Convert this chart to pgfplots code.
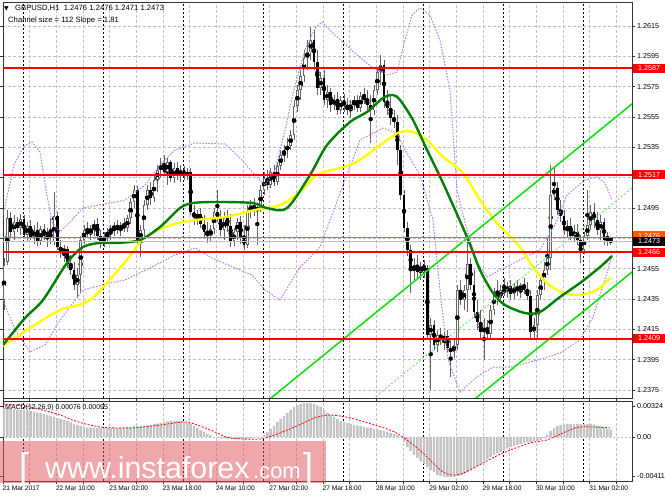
\documentclass[border=0pt]{standalone}
\usepackage{pgfplots}
\pgfplotsset{compat=1.18}
\usepackage{pgfplotstable}
\usepackage{fontspec}
\setmainfont{Liberation Sans}
\newfontfamily\dejavu{DejaVu Sans}
\definecolor{mtgrid}{RGB}{192,192,192}
\definecolor{mtgreen}{RGB}{0,128,0}
\definecolor{mtyellow}{RGB}{255,255,0}
\definecolor{mtlime}{RGB}{20,225,20}
\definecolor{mtviolet}{RGB}{185,120,240}
\definecolor{mtpink}{RGB}{225,80,90}
\definecolor{mtwick}{RGB}{100,100,100}
\definecolor{mtbar}{RGB}{195,195,195}
\definecolor{mtorange}{RGB}{255,90,0}

\pgfplotstableread{
i O H L C
0 1.24344 1.24621 1.24278 1.24575
1 1.24594 1.24937 1.24575 1.24884
2 1.24884 1.24924 1.24753 1.24792
3 1.24792 1.24904 1.24739 1.24858
4 1.24858 1.24891 1.24792 1.24819
5 1.24819 1.24911 1.24772 1.24878
6 1.24878 1.24904 1.24753 1.24772
7 1.24772 1.24858 1.24726 1.24832
8 1.24832 1.24871 1.24739 1.24759
9 1.24759 1.24838 1.24713 1.24805
10 1.24805 1.24858 1.24700 1.24733
11 1.24733 1.24832 1.24706 1.24812
12 1.24812 1.24845 1.24739 1.24766
13 1.24766 1.24819 1.24693 1.24792
14 1.24792 1.24884 1.24713 1.24753
15 1.24726 1.25056 1.24706 1.24898
16 1.24898 1.24924 1.24674 1.24693
17 1.24693 1.24739 1.24621 1.24660
18 1.24660 1.24706 1.24594 1.24680
19 1.24680 1.24700 1.24555 1.24581
20 1.24581 1.24641 1.24509 1.24542
21 1.24542 1.24594 1.24410 1.24443
22 1.24443 1.24555 1.24364 1.24509
23 1.24509 1.24766 1.24397 1.24739
24 1.24739 1.24838 1.24713 1.24805
25 1.24805 1.24858 1.24753 1.24779
26 1.24779 1.24838 1.24739 1.24819
27 1.24819 1.24871 1.24766 1.24845
28 1.24845 1.24884 1.24739 1.24766
29 1.24766 1.24805 1.24687 1.24726
30 1.24726 1.24792 1.24693 1.24766
31 1.24766 1.24819 1.24713 1.24792
32 1.24792 1.24838 1.24739 1.24812
33 1.24812 1.24858 1.24766 1.24832
34 1.24832 1.24871 1.24779 1.24805
35 1.24805 1.24858 1.24766 1.24838
36 1.24838 1.24884 1.24792 1.24819
37 1.24819 1.24904 1.24792 1.24884
38 1.24884 1.25016 1.24845 1.24990
39 1.24990 1.25102 1.24950 1.25069
40 1.25069 1.25095 1.24706 1.24739
41 1.24739 1.24838 1.24627 1.24805
42 1.24805 1.25003 1.24766 1.24970
43 1.24970 1.25102 1.24937 1.25069
44 1.25069 1.25122 1.24970 1.25016
45 1.25016 1.25168 1.24990 1.25135
46 1.25135 1.25234 1.25056 1.25201
47 1.25201 1.25280 1.25148 1.25234
48 1.25234 1.25300 1.25168 1.25188
49 1.25188 1.25280 1.25102 1.25253
50 1.25253 1.25267 1.25122 1.25148
51 1.25148 1.25247 1.25115 1.25214
52 1.25214 1.25253 1.25135 1.25168
53 1.25168 1.25234 1.25122 1.25201
54 1.25201 1.25227 1.25135 1.25161
55 1.25161 1.25214 1.25135 1.25188
56 1.25188 1.25214 1.24904 1.24924
57 1.24924 1.24970 1.24838 1.24884
58 1.24884 1.24937 1.24838 1.24911
59 1.24911 1.24950 1.24819 1.24845
60 1.24845 1.24904 1.24753 1.24792
61 1.24792 1.24858 1.24720 1.24766
62 1.24766 1.24838 1.24726 1.24812
63 1.24812 1.24950 1.24779 1.24924
64 1.24924 1.25069 1.24858 1.24891
65 1.24891 1.24937 1.24766 1.24805
66 1.24805 1.24924 1.24739 1.24884
67 1.24884 1.24937 1.24792 1.24832
68 1.24832 1.24911 1.24693 1.24733
69 1.24733 1.24819 1.24700 1.24792
70 1.24792 1.24884 1.24739 1.24858
71 1.24858 1.24898 1.24713 1.24753
72 1.24753 1.24838 1.24674 1.24706
73 1.24706 1.24970 1.24687 1.24924
74 1.24924 1.25003 1.24884 1.24970
75 1.24970 1.25016 1.24898 1.24937
76 1.24937 1.24983 1.24706 1.24950
77 1.24950 1.25102 1.24924 1.25069
78 1.25069 1.25188 1.25036 1.25148
79 1.25148 1.25201 1.25069 1.25102
80 1.25102 1.25214 1.25082 1.25188
81 1.25188 1.25234 1.25095 1.25122
82 1.25122 1.25253 1.25102 1.25227
83 1.25227 1.25333 1.25201 1.25300
84 1.25300 1.25365 1.25253 1.25333
85 1.25333 1.25412 1.25280 1.25359
86 1.25359 1.25464 1.25333 1.25431
87 1.25431 1.25662 1.25398 1.25622
88 1.25622 1.25761 1.25583 1.25728
89 1.25728 1.25860 1.25662 1.25820
90 1.25820 1.25992 1.25781 1.25939
91 1.25939 1.26057 1.25860 1.25978
92 1.25978 1.26143 1.25926 1.26057
93 1.26057 1.26123 1.25860 1.25912
94 1.25912 1.25992 1.25695 1.25741
95 1.25741 1.25847 1.25695 1.25807
96 1.25807 1.25860 1.25629 1.25662
97 1.25662 1.25761 1.25609 1.25715
98 1.25715 1.25741 1.25583 1.25629
99 1.25629 1.25695 1.25596 1.25669
100 1.25669 1.25715 1.25563 1.25596
101 1.25596 1.25688 1.25570 1.25662
102 1.25662 1.25702 1.25583 1.25622
103 1.25622 1.25675 1.25563 1.25596
104 1.25596 1.25662 1.25543 1.25636
105 1.25636 1.25688 1.25596 1.25662
106 1.25662 1.25695 1.25583 1.25609
107 1.25609 1.25715 1.25583 1.25688
108 1.25688 1.25741 1.25636 1.25662
109 1.25662 1.25728 1.25596 1.25629
110 1.25629 1.25695 1.25379 1.25596
111 1.25596 1.25761 1.25563 1.25728
112 1.25728 1.25873 1.25695 1.25847
113 1.25847 1.25959 1.25761 1.25893
114 1.25893 1.25926 1.25609 1.25649
115 1.25649 1.25728 1.25563 1.25609
116 1.25609 1.25695 1.25497 1.25543
117 1.25543 1.25596 1.25477 1.25517
118 1.25517 1.25563 1.25234 1.25333
119 1.25333 1.25365 1.25003 1.25036
120 1.25036 1.25069 1.24792 1.24819
121 1.24819 1.24858 1.24634 1.24674
122 1.24674 1.24706 1.24390 1.24542
123 1.24542 1.24621 1.24476 1.24575
124 1.24575 1.24641 1.24489 1.24529
125 1.24529 1.24594 1.24476 1.24568
126 1.24568 1.24608 1.24489 1.24555
127 1.24555 1.24575 1.24080 1.24113
128 1.24113 1.24225 1.23751 1.24179
129 1.24179 1.24212 1.24015 1.24047
130 1.24047 1.24146 1.24001 1.24113
131 1.24113 1.24160 1.24047 1.24080
132 1.24080 1.24133 1.24015 1.24107
133 1.24107 1.24146 1.24001 1.24028
134 1.24028 1.24080 1.23837 1.24001
135 1.24001 1.24094 1.23962 1.24047
136 1.24047 1.24443 1.24015 1.24410
137 1.24410 1.24476 1.24311 1.24344
138 1.24344 1.24443 1.24278 1.24410
139 1.24410 1.24753 1.24265 1.24581
140 1.24581 1.24621 1.24410 1.24443
141 1.24443 1.24542 1.24225 1.24265
142 1.24265 1.24344 1.24146 1.24199
143 1.24199 1.24278 1.24094 1.24133
144 1.24133 1.24225 1.23949 1.24160
145 1.24160 1.24212 1.24094 1.24120
146 1.24120 1.24311 1.24094 1.24278
147 1.24278 1.24423 1.24245 1.24390
148 1.24390 1.24476 1.24311 1.24357
149 1.24357 1.24443 1.24331 1.24410
150 1.24410 1.24489 1.24370 1.24397
151 1.24397 1.24463 1.24357 1.24436
152 1.24436 1.24476 1.24344 1.24384
153 1.24384 1.24456 1.24351 1.24430
154 1.24430 1.24476 1.24370 1.24403
155 1.24403 1.24456 1.24357 1.24443
156 1.24443 1.24489 1.24384 1.24410
157 1.24410 1.24463 1.24344 1.24370
158 1.24370 1.24410 1.24094 1.24133
159 1.24133 1.24225 1.24080 1.24179
160 1.24179 1.24410 1.24094 1.24377
161 1.24377 1.24502 1.24344 1.24476
162 1.24476 1.24594 1.24410 1.24542
163 1.24542 1.24759 1.24509 1.24621
164 1.24621 1.25234 1.24542 1.25036
165 1.25036 1.25214 1.25003 1.25082
166 1.25082 1.25122 1.24904 1.24937
167 1.24937 1.25003 1.24858 1.24898
168 1.24898 1.24937 1.24772 1.24805
169 1.24805 1.24871 1.24753 1.24832
170 1.24832 1.24884 1.24739 1.24766
171 1.24766 1.24838 1.24726 1.24792
172 1.24792 1.24845 1.24706 1.24739
173 1.24739 1.24772 1.24588 1.24674
174 1.24674 1.24792 1.24647 1.24766
175 1.24766 1.25069 1.24739 1.24838
176 1.24838 1.24970 1.24805 1.24924
177 1.24924 1.24983 1.24819 1.24871
178 1.24871 1.24924 1.24772 1.24805
179 1.24805 1.24904 1.24739 1.24858
180 1.24858 1.24884 1.24706 1.24739
181 1.24739 1.24792 1.24700 1.24766
182 1.24760 1.24760 1.24710 1.24730
}\candles

\pgfplotstableread{
i m
0 0.00303
1 0.00303
2 0.00298
3 0.00293
4 0.00287
5 0.00282
6 0.00282
7 0.00272
8 0.00272
9 0.00261
10 0.00256
11 0.00251
12 0.00240
13 0.00230
14 0.00219
15 0.00209
16 0.00199
17 0.00188
18 0.00178
19 0.00167
20 0.00152
21 0.00136
22 0.00125
23 0.00115
24 0.00105
25 0.00099
26 0.00094
27 0.00094
28 0.00094
29 0.00094
30 0.00094
31 0.00094
32 0.00094
33 0.00094
34 0.00094
35 0.00099
36 0.00105
37 0.00105
38 0.00105
39 0.00110
40 0.00110
41 0.00115
42 0.00115
43 0.00120
44 0.00125
45 0.00136
46 0.00141
47 0.00146
48 0.00157
49 0.00162
50 0.00167
51 0.00167
52 0.00167
53 0.00167
54 0.00157
55 0.00146
56 0.00136
57 0.00115
58 0.00094
59 0.00073
60 0.00052
61 0.00031
62 0.00016
63 -0.00002
64 -0.00005
65 -0.00010
66 -0.00010
67 -0.00016
68 -0.00016
69 -0.00021
70 -0.00021
71 -0.00021
72 -0.00021
73 -0.00016
74 -0.00016
75 -0.00010
76 -0.00005
77 0.00005
78 0.00021
79 0.00052
80 0.00084
81 0.00115
82 0.00157
83 0.00188
84 0.00219
85 0.00251
86 0.00282
87 0.00314
88 0.00334
89 0.00345
90 0.00355
91 0.00355
92 0.00355
93 0.00345
94 0.00329
95 0.00314
96 0.00282
97 0.00251
98 0.00230
99 0.00209
100 0.00188
101 0.00167
102 0.00157
103 0.00146
104 0.00136
105 0.00125
106 0.00120
107 0.00115
108 0.00105
109 0.00099
110 0.00094
111 0.00084
112 0.00078
113 0.00073
114 0.00063
115 0.00052
116 0.00042
117 0.00031
118 0.00021
119 -0.00005
120 -0.00052
121 -0.00105
122 -0.00146
123 -0.00188
124 -0.00219
125 -0.00251
126 -0.00282
127 -0.00314
128 -0.00345
129 -0.00366
130 -0.00397
131 -0.00408
132 -0.00418
133 -0.00418
134 -0.00418
135 -0.00418
136 -0.00408
137 -0.00402
138 -0.00387
139 -0.00366
140 -0.00345
141 -0.00324
142 -0.00303
143 -0.00282
144 -0.00256
145 -0.00230
146 -0.00209
147 -0.00188
148 -0.00167
149 -0.00157
150 -0.00136
151 -0.00120
152 -0.00105
153 -0.00094
154 -0.00084
155 -0.00073
156 -0.00063
157 -0.00057
158 -0.00052
159 -0.00047
160 -0.00042
161 -0.00031
162 -0.00010
163 0.00021
164 0.00063
165 0.00094
166 0.00115
167 0.00125
168 0.00131
169 0.00136
170 0.00136
171 0.00136
172 0.00136
173 0.00136
174 0.00136
175 0.00136
176 0.00136
177 0.00131
178 0.00120
179 0.00110
180 0.00099
181 0.00088
182 0.00076
}\macd

\begin{document}
\begin{tikzpicture}
\useasboundingbox (0bp,0bp) rectangle (665bp,499bp);
\fill[white] (0bp,0bp) rectangle (665bp,499bp);

% ---------------- price panel ----------------
\begin{axis}[
  at={(3bp,101bp)}, anchor=south west, scale only axis,
  width=629bp, height=396bp,
  xmin=-0.3, xmax=188.4, ymin=1.23698, ymax=1.26308,
  clip mode=individual,
  axis line style={black!80, line width=0.8bp},
  xtick={-0.3,7.7,...,183.7}, xticklabels={},
  xtick style={draw=none},
  extra x ticks={5.7,29.7,53.7,77.7,101.7,125.7,149.7,173.7},
  extra x tick labels={},
  extra x tick style={xtick style={draw=none}, major grid style={black, dash pattern=on 2bp off 2bp, line width=0.7bp}},
  xmajorgrids, ymajorgrids,
  major grid style={mtgrid, dash pattern=on 3bp off 2bp, line width=0.6bp},
  ytick={1.2375,1.2395,1.2415,1.2435,1.2455,1.2475,1.2495,1.2515,1.2535,1.2555,1.2575,1.2595,1.2615},
  yticklabels={1.2375,1.2395,1.2415,1.2435,1.2455,,1.2495,,1.2535,1.2555,1.2575,1.2595,1.2615},
  yticklabel pos=right,
  tick align=outside, major tick length=3bp,
  ytick style={black!80, line width=0.6bp},
  yticklabel style={font=\fontsize{7.2}{8}\selectfont, anchor=west, inner sep=0pt, xshift=2bp},
]
% wicks
\addplot[only marks, mark=none, error bars/.cd, y dir=both, y explicit, error mark=none,
  error bar style={line width=0.7bp, mtwick}]
  table[x=i, y expr={(\thisrow{H}+\thisrow{L})/2}, y error expr={(\thisrow{H}-\thisrow{L})/2}] {\candles};
% bear bodies
\addplot[only marks, mark=none, restrict expr to domain={\thisrow{O}-\thisrow{C}}{0.0000001:1},
  error bars/.cd, y dir=both, y explicit, error mark=none,
  error bar style={line width=2.5bp, black}]
  table[x=i, y expr={(\thisrow{O}+\thisrow{C})/2}, y error expr={abs(\thisrow{O}-\thisrow{C})/2+0.00001}] {\candles};
% bull bodies (outline)
\addplot[only marks, mark=none, restrict expr to domain={\thisrow{C}-\thisrow{O}}{0:1},
  error bars/.cd, y dir=both, y explicit, error mark=none,
  error bar style={line width=2.6bp, mtwick}]
  table[x=i, y expr={(\thisrow{O}+\thisrow{C})/2}, y error expr={abs(\thisrow{O}-\thisrow{C})/2+0.00001}] {\candles};
% bull bodies (inside)
\addplot[only marks, mark=none, restrict expr to domain={\thisrow{C}-\thisrow{O}}{0:1},
  error bars/.cd, y dir=both, y explicit, error mark=none,
  error bar style={line width=0.9bp, white}]
  table[x=i, y expr={(\thisrow{O}+\thisrow{C})/2}, y error expr={max(abs(\thisrow{O}-\thisrow{C})/2-0.00005,0)}] {\candles};

% bands (dotted violet)
\addplot[mtviolet, line width=1bp, dash pattern=on 1.5bp off 1.5bp] coordinates {
(-0.3,1.24904) (3.0,1.25234) (6.0,1.25359) (8.4,1.25385) (10.8,1.25319) (12.6,1.25069) (14.4,1.24858) (16.8,1.24792) (19.8,1.24858) (23.7,1.24950) (31.8,1.24983) (36.3,1.25003) (42.3,1.25102) (46.8,1.25234) (51.3,1.25333) (57.3,1.25379) (66.3,1.25372) (70.8,1.25280) (75.3,1.25168) (78.3,1.25102) (81.3,1.25201) (84.3,1.25464) (87.3,1.25761) (90.3,1.25992) (93.3,1.26136) (95.4,1.26176) (99.3,1.26090) (105.9,1.25959) (110.7,1.25873) (115.2,1.25827) (117.9,1.25847) (120.3,1.26057) (122.4,1.26222) (124.8,1.26268) (127.8,1.26222) (130.8,1.26057) (133.8,1.25728) (135.9,1.25069) (138.9,1.24805) (141.9,1.24594) (144.9,1.24496) (148.8,1.24542) (154.8,1.24608) (160.8,1.24674) (165.3,1.24838) (168.9,1.25036) (174.3,1.25135) (177.9,1.25155) (180.3,1.25115) (182.4,1.25003)};
\addplot[mtviolet, line width=1bp, dash pattern=on 1.5bp off 1.5bp] coordinates {
(-0.3,1.24344) (3.3,1.24147) (7.8,1.24001) (12.3,1.24047) (16.8,1.24212) (23.7,1.24410) (31.8,1.24456) (36.3,1.24476) (43.8,1.24555) (51.3,1.24641) (57.3,1.24687) (62.4,1.24621) (69.3,1.24555) (74.4,1.24509) (78.3,1.24410) (82.8,1.24344) (88.8,1.24561) (94.8,1.24693) (97.8,1.24871) (102.3,1.25135) (106.8,1.25398) (113.7,1.25477) (117.9,1.25445) (120.3,1.25333) (124.8,1.25168) (128.7,1.24871) (130.8,1.24410) (133.2,1.23949) (136.8,1.23738) (141.9,1.23837) (146.7,1.23902) (151.8,1.23902) (157.8,1.23935) (162.3,1.23962) (166.8,1.23995) (172.8,1.24080) (176.7,1.24232) (180.9,1.24522) (182.4,1.24641)};

% moving averages
\addplot[mtyellow, line width=2.4bp, smooth, tension=0.5] coordinates {
(-0.3,1.24041) (7.8,1.24159) (16.8,1.24278) (25.8,1.24344) (36.3,1.24594) (41.4,1.24739) (46.2,1.24805) (52.2,1.24851) (57.3,1.24871) (66.3,1.24891) (75.3,1.24937) (82.8,1.24970) (88.8,1.25056) (93.9,1.25168) (103.8,1.25234) (108.9,1.25300) (113.7,1.25379) (118.8,1.25451) (122.7,1.25451) (126.9,1.25398) (131.7,1.25287) (137.7,1.25181) (142.8,1.25003) (147.9,1.24851) (154.8,1.24693) (158.7,1.24561) (162.9,1.24456) (167.7,1.24390) (172.8,1.24377) (177.9,1.24410) (181.8,1.24489)};
\addplot[mtgreen, line width=2.4bp, smooth, tension=0.5] coordinates {
(-0.3,1.24047) (6.3,1.24225) (11.7,1.24344) (18.9,1.24588) (23.7,1.24693) (28.8,1.24720) (33.9,1.24720) (40.8,1.24739) (46.8,1.24825) (52.8,1.24950) (56.7,1.24983) (63.9,1.24990) (74.7,1.24983) (78.8,1.24950) (84.9,1.24950) (91.8,1.25168) (96.9,1.25365) (103.8,1.25517) (108.9,1.25583) (113.7,1.25675) (116.7,1.25695) (118.8,1.25662) (122.7,1.25530) (126.9,1.25333) (131.7,1.25115) (138.9,1.24759) (142.8,1.24542) (146.7,1.24390) (150.3,1.24311) (156.3,1.24258) (160.8,1.24265) (166.8,1.24364) (172.8,1.24456) (178.8,1.24561) (182.4,1.24634)};

% regression channel
\addplot[mtlime, line width=1.6bp] coordinates {(70,1.23517) (195,1.25754)};
\addplot[mtlime, line width=1.6bp] coordinates {(135,1.23581) (195,1.24645)};
\addplot[mtlime!70, line width=0.8bp, dash pattern=on 2bp off 2bp] coordinates {(105,1.23591) (195,1.25200)};

% levels
\addplot[orange!80!red, line width=0.6bp] coordinates {(-1,1.2476) (190,1.2476)};
\addplot[mtgrid, line width=0.6bp] coordinates {(-1,1.2473) (190,1.2473)};
\addplot[red, line width=2bp] coordinates {(-1,1.2587) (190,1.2587)};
\addplot[red, line width=2bp] coordinates {(-1,1.2517) (190,1.2517)};
\addplot[red, line width=2bp] coordinates {(-1,1.2466) (190,1.2466)};
\addplot[red, line width=2bp] coordinates {(-1,1.2409) (190,1.2409)};

% price tags
\tikzset{tag/.style={anchor=west, inner sep=0pt, minimum height=9bp, minimum width=32bp, text=white, font=\fontsize{7.2}{8}\selectfont, xshift=1bp}}
\node[tag, fill=mtorange, yshift=1bp] at (axis cs:188.4,1.2476) {1.2476};
\node[tag, fill=black] at (axis cs:188.4,1.2473) {1.2473};
\node[tag, fill=red] at (axis cs:188.4,1.2587) {1.2587};
\node[tag, fill=red] at (axis cs:188.4,1.2517) {1.2517};
\node[tag, fill=red] at (axis cs:188.4,1.2466) {1.2466};
\node[tag, fill=red] at (axis cs:188.4,1.2409) {1.2409};
\end{axis}

% ---------------- MACD panel ----------------
\begin{axis}[
  at={(3bp,18bp)}, anchor=south west, scale only axis,
  width=629bp, height=80bp,
  xmin=-0.3, xmax=188.4, ymin=-0.0046, ymax=0.003762,
  axis line style={black!80, line width=0.8bp},
  xtick={-0.3,7.7,...,183.7},
  xticklabels={21 Mar 2017,,22 Mar 10:00,,23 Mar 02:00,,23 Mar 18:00,,24 Mar 10:00,,27 Mar 02:00,,27 Mar 18:00,,28 Mar 10:00,,29 Mar 02:00,,29 Mar 18:00,,30 Mar 10:00,,31 Mar 02:00,},
  xticklabel style={font=\fontsize{6.6}{8}\selectfont, anchor=north west, inner sep=0pt, yshift=-2bp, xshift=-0.5bp},
  extra x ticks={5.7,29.7,53.7,77.7,101.7,125.7,149.7,173.7},
  extra x tick labels={},
  extra x tick style={xtick style={draw=none}, major grid style={black, dash pattern=on 2bp off 2bp, line width=0.7bp}},
  xmajorgrids,
  major grid style={mtgrid, dash pattern=on 3bp off 2bp, line width=0.6bp},
  ytick={-0.00411,0,0.00324},
  yticklabels={-0.00411,0.00,0.00324},
  yticklabel pos=right,
  tick align=outside, major tick length=3bp,
  tick style={black!80, line width=0.6bp},
  yticklabel style={font=\fontsize{7.2}{8}\selectfont, anchor=west, inner sep=0pt, xshift=2bp},
  scaled y ticks=false,
]
\addplot[ybar, bar width=2.4bp, fill=mtbar, draw=none] table[x=i, y=m] {\macd};
\addplot[mtgrid, line width=0.6bp, dash pattern=on 2bp off 2bp] coordinates {(-1,0) (190,0)};
\addplot[red, line width=0.8bp, dash pattern=on 2bp off 1.5bp, smooth] coordinates {
(-0.3,0.00345) (7.8,0.00314) (16.8,0.00230) (21.3,0.00167) (28.8,0.00105) (37.8,0.00094) (46.8,0.00125) (54.3,0.00157) (58.8,0.00115) (63.3,0.00052) (67.8,-0.00010) (76.8,-0.00021) (82.8,0.00042) (88.8,0.00130) (93.3,0.00200) (97.8,0.00230) (103.8,0.00200) (110.7,0.00130) (116.7,0.00060) (120.9,-0.00031) (125.7,-0.00167) (131.7,-0.00366) (135.9,-0.00397) (139.8,-0.00345) (143.7,-0.00272) (149.7,-0.00167) (157.8,-0.00063) (162.9,-0.00031) (167.7,0.00042) (172.8,0.00105) (181.8,0.00095)};
\end{axis}

% texts
\node[anchor=base west, inner sep=0pt, font=\dejavu\fontsize{6}{7}\selectfont] at (4bp,488bp) {▼};
\node[anchor=base west, inner sep=0pt, font=\fontsize{7.7}{9}\selectfont] at (15bp,488bp) {GBPUSD,H1\ \ 1.2476 1.2476 1.2471 1.2473};
\node[anchor=base west, inner sep=0pt, font=\fontsize{7.7}{9}\selectfont] at (8bp,476bp) {Channel size = 112 Slope = 1.81};
\node[anchor=base west, inner sep=0pt, font=\fontsize{7}{8}\selectfont] at (5bp,89bp) {MACD(12,26,9) 0.00076 0.00095};

% watermark
\fill[mtpink, opacity=0.5] (0bp,16bp) rectangle (326bp,58bp);
\node[anchor=base west, inner sep=0pt, text=white, font=\fontsize{36}{40}\selectfont] at (19bp,21bp) {[};
\node[anchor=base west, inner sep=0pt, text=white, font=\fontsize{30.5}{34}\selectfont] at (45bp,21bp) {www.instaforex};
\node[anchor=base west, inner sep=0pt, text=white, font=\fontsize{22}{26}\selectfont] at (253bp,21bp) {.com};
\node[anchor=base west, inner sep=0pt, text=white, font=\fontsize{36}{40}\selectfont] at (303bp,21bp) {]};
\end{tikzpicture}
\end{document}
